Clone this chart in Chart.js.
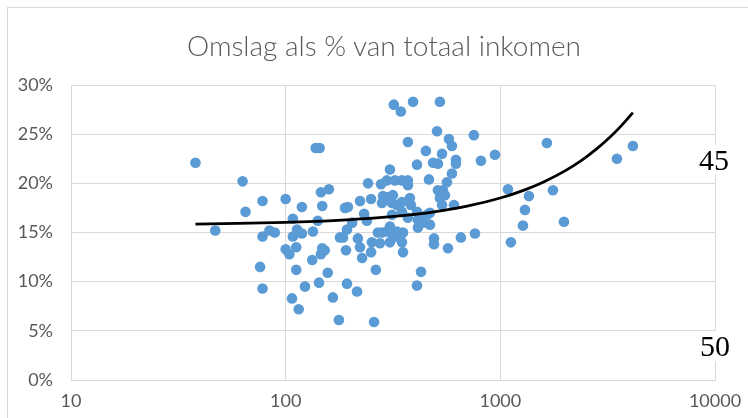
<!DOCTYPE html>
<html>
<head>
<meta charset="utf-8">
<script src="https://cdn.jsdelivr.net/npm/chart.js@4"></script>
<style>
    html, body { margin: 0; padding: 0; background: #fff; overflow: hidden; }
    #wrap { position: relative; width: 748px; height: 418px; }
    #frame { position: absolute; left: 7px; top: 7px; width: 800px; height: 500px; border: 1px solid #D9D9D9; }
    canvas { position: absolute; left: 0; top: 0; }
    #title { position: absolute; left: 0; top: 28px; width: 768px; text-align: center; font-family: Lato, sans-serif; font-weight: 300; font-size: 28px; line-height: 34px; color: #595959; white-space: nowrap; }
    .stray { position: absolute; font-family: "Liberation Serif", "Times New Roman", serif; font-size: 30px; line-height: 30px; color: #000; background: #fff; }
</style>
</head>
<body>
<div id="wrap">
    <div id="frame"></div>
    <canvas id="omslagChart" width="748" height="418"></canvas>
    <div id="title">Omslag als % van totaal inkomen</div>
    <span class="stray" style="left:699px; top:145px;">45</span>
    <span class="stray" style="left:700px; top:331px;">50</span>
</div>
<script>
// inkomen (x, log schaal) en omslag in % (y)
const incomes = [
    38, 47, 63, 65, 76, 78, 78, 78, 84, 89, 100, 100, 104, 108, 108, 113, 112, 112, 107, 115, 119, 119,
    138, 144, 146, 159, 148, 141, 134, 133, 148, 152, 146, 157, 123, 143, 166, 177, 179, 189, 195, 185, 193, 191, 193, 204,
    222, 242, 250, 232, 239, 217, 222, 227, 250, 263, 215, 258, 252, 269, 275, 281, 296, 306, 316, 330, 341, 348, 352, 306, 352,
    278, 296, 306, 323, 284, 300, 316, 281, 313, 330, 313, 319, 344,
    348, 371, 371, 348, 379, 383, 348, 371, 409, 413, 431, 455, 470, 413, 436, 470, 392, 523, 507, 371, 450, 535, 409, 486, 512,
    465, 512, 540, 552, 523, 535, 491, 491, 570, 427, 409, 576, 595, 564,
    621, 621, 595, 608, 655, 762, 753, 812, 944,
    1085, 1359, 1758, 1648, 1302, 1274, 1978, 1120, 3492, 4146
];
const omslagPct = [
    22.1, 15.2, 20.2, 17.1, 11.5, 9.3, 18.2, 14.6, 15.2, 15.0, 18.4, 13.3, 12.8, 16.4, 14.6, 15.3, 13.5, 11.2, 8.3, 7.2, 17.6, 14.9,
    23.6, 23.6, 19.1, 19.4, 17.7, 16.2, 15.1, 12.2, 13.4, 13.2, 12.8, 10.9, 9.5, 9.9, 8.4, 6.1, 14.5, 17.5, 17.6, 14.5, 15.3, 13.2, 9.8, 16.0,
    18.2, 20.0, 18.4, 16.9, 16.2, 14.4, 13.5, 12.4, 13.0, 11.2, 9.0, 5.9, 14.0, 15.0, 13.9, 15.0, 15.1, 15.6, 14.5, 15.1, 14.5, 14.0, 15.0, 14.0, 13.0,
    19.9, 20.3, 21.4, 20.3, 18.7, 18.6, 18.8, 18.0, 18.0, 17.8, 16.8, 28.0, 27.3,
    20.3, 20.3, 19.8, 18.1, 18.5, 17.8, 17.1, 16.5, 17.1, 16.3, 16.6, 16.8, 15.8, 15.5, 16.0, 17.0, 28.3, 28.3, 25.3, 24.2, 23.3, 23.0, 21.9, 22.1, 22.0,
    20.4, 19.3, 19.3, 18.8, 18.5, 17.8, 14.4, 13.8, 13.4, 11.0, 9.6, 24.5, 23.8, 20.1,
    22.4, 22.0, 21.0, 17.8, 14.5, 14.9, 24.9, 22.3, 22.9,
    19.4, 18.7, 19.3, 24.1, 17.3, 15.7, 16.1, 14.0, 22.5, 23.8
];

// trendlijn
const trendX = [38, 60, 100, 150, 200, 300, 400, 500, 700, 1000, 1300, 1600, 2000, 2400, 2800, 3200, 3600, 4146];
const trendY = [15.85, 15.92, 16.03, 16.16, 16.3, 16.58, 16.85, 17.13, 17.68, 18.51, 19.34, 20.17, 21.27, 22.37, 23.48, 24.58, 25.69, 27.19];

const xTicks = [10, 100, 1000, 10000];
const yTicks = [0, 5, 10, 15, 20, 25, 30];

const GRID = '#D9D9D9';
const TEXT = '#595959';

const points = incomes.map((x, i) => ({ x: x, y: omslagPct[i] }));
const trend = trendX.map((x, i) => ({ x: x, y: trendY[i] }));

const ctx = document.getElementById('omslagChart').getContext('2d');
new Chart(ctx, {
    type: 'scatter',
    data: {
        datasets: [
            {
                type: 'line',
                data: trend,
                borderColor: '#000000',
                borderWidth: 2.8,
                pointRadius: 0,
                cubicInterpolationMode: 'monotone',
                fill: false,
                order: 0
            },
            {
                data: points,
                backgroundColor: '#5B9BD5',
                borderWidth: 0,
                pointRadius: 5.3,
                pointHoverRadius: 5.3,
                order: 1
            }
        ]
    },
    options: {
        responsive: false,
        devicePixelRatio: 1,
        animation: false,
        // title is an html div, so the plot top is set by padding
        layout: { padding: { top: 85, right: 33, bottom: 0, left: 0 } },
        plugins: {
            legend: { display: false },
            tooltip: { enabled: false },
            title: { display: false }
        },
        scales: {
            x: {
                type: 'logarithmic',
                min: 10,
                max: 10000,
                afterBuildTicks: (scale) => { scale.ticks = xTicks.map(v => ({ value: v })); },
                afterFit: (scale) => {
                    scale.height = 38;
                    scale.paddingLeft = 0;
                    scale.paddingRight = 0;
                },
                grid: { color: GRID, drawTicks: false },
                border: { color: GRID },
                ticks: {
                    color: TEXT,
                    font: { family: 'Lato', size: 18 },
                    padding: 10,
                    maxRotation: 0,
                    callback: (v) => String(v)
                }
            },
            y: {
                min: 0,
                max: 30,
                afterBuildTicks: (scale) => { scale.ticks = yTicks.map(v => ({ value: v })); },
                afterFit: (scale) => {
                    scale.width = 71;
                    scale.paddingTop = 0;
                    scale.paddingBottom = 0;
                },
                grid: { color: GRID, drawTicks: false },
                border: { color: GRID },
                ticks: {
                    color: TEXT,
                    font: { family: 'Lato', size: 18 },
                    padding: 18,
                    callback: (v) => v + '%'
                }
            }
        }
    }
});
</script>
</body>
</html>
